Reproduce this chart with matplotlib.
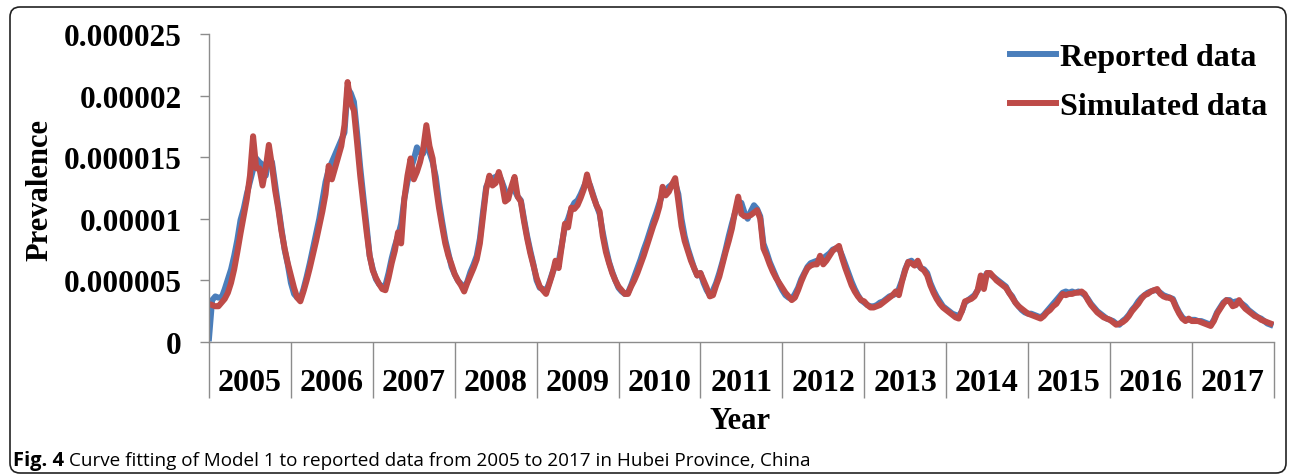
import numpy as np
import matplotlib
matplotlib.use("Agg")
import matplotlib.pyplot as plt
from matplotlib.patches import FancyBboxPatch
from matplotlib.ticker import FuncFormatter

# prevalence in units of 1e-6, 26 points per year (roughly two-weekly)
years = ["2005", "2006", "2007", "2008", "2009", "2010", "2011",
         "2012", "2013", "2014", "2015", "2016", "2017"]
pts_per_year = 26

reported = [
    0.3, 3.4, 3.7, 3.6, 3.6, 4.3, 5.1, 5.9, 7.0, 8.3, 9.9, 10.8, 12.0, 13.0, 14.0, 14.9, 14.6, 14.4, 13.5, 15.0, 14.6, 12.8, 11.0, 9.2, 7.5, 6.3,
    4.8, 3.9, 3.6, 3.5, 4.3, 5.3, 6.4, 7.6, 8.8, 10.0, 11.5, 13.0, 14.0, 14.6, 15.2, 15.8, 16.4, 17.0, 20.6, 20.2, 19.5, 17.0, 14.2, 11.8, 9.5, 7.0,
    5.9, 5.1, 4.7, 4.5, 4.6, 5.6, 6.8, 7.8, 8.6, 9.6, 11.6, 13.0, 14.0, 14.8, 15.8, 15.4, 15.3, 16.4, 15.4, 14.6, 13.4, 11.4, 9.8, 8.3, 7.2, 6.1,
    5.5, 5.0, 4.7, 4.4, 4.9, 5.7, 6.3, 7.0, 8.4, 10.6, 12.6, 13.1, 13.3, 13.4, 13.6, 13.0, 12.3, 12.0, 12.4, 12.3, 11.8, 11.5, 10.0, 8.6, 7.4, 6.3,
    5.0, 4.4, 4.3, 4.1, 4.8, 5.6, 6.2, 6.5, 7.9, 9.4, 10.0, 10.8, 11.3, 11.5, 12.0, 12.6, 13.2, 12.7, 11.9, 11.1, 10.4, 8.9, 7.6, 6.5, 5.7, 5.0,
    4.4, 4.1, 3.9, 4.0, 4.6, 5.3, 6.0, 6.7, 7.5, 8.2, 9.0, 9.8, 10.5, 11.3, 12.0, 12.3, 12.6, 12.8, 12.9, 12.0, 10.0, 8.6, 7.6, 6.8, 6.0, 5.4,
    5.6, 4.8, 4.2, 3.8, 4.2, 4.8, 5.6, 6.5, 7.5, 8.6, 9.6, 10.5, 11.0, 11.3, 10.5, 10.0, 10.6, 11.1, 10.8, 10.2, 8.0, 7.3, 6.5, 5.9, 5.3, 4.7,
    4.2, 3.8, 3.6, 3.5, 3.9, 4.4, 5.1, 5.6, 6.1, 6.4, 6.5, 6.6, 6.6, 6.8, 7.0, 7.2, 7.5, 7.6, 7.6, 7.0, 6.3, 5.6, 4.9, 4.3, 3.8, 3.4,
    3.2, 3.0, 2.9, 2.9, 3.0, 3.2, 3.3, 3.5, 3.7, 3.8, 3.9, 4.3, 5.0, 5.9, 6.5, 6.6, 6.3, 6.3, 6.0, 5.9, 5.6, 4.8, 4.2, 3.7, 3.3, 2.9,
    2.7, 2.5, 2.3, 2.2, 2.1, 2.5, 3.2, 3.4, 3.6, 3.8, 4.2, 4.8, 5.2, 5.6, 5.5, 5.3, 5.1, 4.9, 4.7, 4.5, 4.0, 3.7, 3.2, 2.9, 2.6, 2.4,
    2.3, 2.3, 2.2, 2.1, 2.0, 2.2, 2.5, 2.8, 3.1, 3.4, 3.7, 4.0, 4.1, 4.0, 4.1, 4.0, 4.1, 4.0, 3.8, 3.5, 3.1, 2.8, 2.5, 2.3, 2.1, 1.9,
    1.8, 1.7, 1.5, 1.4, 1.7, 1.9, 2.2, 2.6, 2.9, 3.3, 3.6, 3.8, 4.0, 4.1, 4.2, 4.2, 4.0, 3.8, 3.7, 3.6, 3.5, 2.9, 2.4, 2.0, 1.8, 1.8,
    1.8, 1.8, 1.7, 1.7, 1.6, 1.5, 1.4, 1.8, 2.4, 2.8, 3.2, 3.4, 3.4, 3.2, 3.3, 3.3, 3.1, 2.9, 2.6, 2.4, 2.2, 2.0, 1.9, 1.7, 1.5, 1.4,
]

simulated = [
    np.nan, 3.0, 2.9, 2.9, 3.2, 3.5, 4.0, 4.8, 5.9, 7.3, 8.8, 10.2, 11.6, 13.5, 16.7, 14.1, 14.1, 12.7, 14.1, 16.0, 14.3, 12.3, 10.8, 9.0, 7.6, 6.4,
    5.4, 4.4, 3.6, 3.3, 4.1, 5.0, 6.0, 7.1, 8.2, 9.4, 10.6, 12.0, 14.3, 13.2, 14.1, 15.0, 15.9, 17.6, 21.1, 19.4, 18.8, 16.2, 13.5, 11.2, 9.0, 7.0,
    5.8, 5.2, 4.7, 4.3, 4.2, 5.2, 6.4, 7.4, 8.9, 8.0, 11.6, 13.5, 14.9, 13.2, 13.8, 14.6, 15.7, 17.6, 15.9, 14.9, 12.7, 10.9, 9.4, 8.0, 7.0, 6.3,
    5.5, 5.0, 4.6, 4.1, 4.8, 5.4, 6.0, 6.7, 8.0, 10.2, 12.4, 13.5, 12.7, 12.9, 13.8, 12.9, 11.4, 11.6, 12.6, 13.4, 11.8, 11.4, 9.8, 8.4, 7.2, 6.2,
    5.2, 4.5, 4.2, 3.9, 4.7, 5.5, 6.6, 6.0, 7.8, 9.6, 9.3, 10.9, 10.8, 11.1, 11.7, 12.4, 13.6, 12.6, 11.8, 11.1, 10.6, 8.6, 7.3, 6.4, 5.6, 5.0,
    4.5, 4.2, 3.9, 3.9, 4.5, 5.0, 5.6, 6.3, 7.0, 7.8, 8.6, 9.4, 10.1, 11.0, 12.6, 11.9, 12.2, 12.8, 13.3, 11.4, 9.4, 8.2, 7.4, 6.6, 6.0, 5.4,
    5.6, 5.0, 4.4, 3.7, 3.8, 4.6, 5.3, 6.3, 7.3, 8.2, 9.2, 10.6, 11.8, 10.4, 10.2, 10.2, 10.3, 10.5, 10.7, 10.0, 7.6, 7.0, 6.3, 5.7, 5.2, 4.8,
    4.4, 4.0, 3.7, 3.4, 3.6, 4.2, 4.9, 5.5, 6.0, 6.2, 6.3, 6.3, 7.0, 6.3, 6.6, 7.0, 7.4, 7.6, 7.8, 6.8, 6.0, 5.3, 4.6, 4.1, 3.7, 3.4,
    3.3, 3.0, 2.8, 2.8, 2.9, 3.0, 3.2, 3.4, 3.6, 3.8, 4.1, 3.8, 4.9, 5.8, 6.5, 6.4, 6.2, 6.6, 6.0, 5.8, 5.4, 4.6, 4.0, 3.5, 3.1, 2.8,
    2.6, 2.4, 2.2, 2.0, 1.9, 2.5, 3.3, 3.4, 3.5, 3.7, 4.2, 5.4, 4.3, 5.6, 5.6, 5.3, 5.0, 4.8, 4.6, 4.4, 4.0, 3.6, 3.2, 2.9, 2.7, 2.5,
    2.3, 2.2, 2.1, 2.0, 1.9, 2.1, 2.4, 2.6, 2.9, 3.1, 3.5, 3.9, 3.8, 3.9, 3.9, 4.0, 4.0, 4.1, 3.9, 3.4, 3.0, 2.7, 2.4, 2.2, 2.0, 1.9,
    1.8, 1.6, 1.4, 1.5, 1.6, 1.8, 2.1, 2.5, 2.8, 3.1, 3.5, 3.8, 3.9, 4.1, 4.2, 4.3, 3.9, 3.7, 3.6, 3.6, 3.4, 2.8, 2.3, 1.9, 1.7, 1.9,
    1.7, 1.7, 1.7, 1.6, 1.5, 1.4, 1.3, 1.7, 2.3, 2.7, 3.1, 3.4, 3.3, 2.9, 3.0, 3.4, 3.0, 2.7, 2.5, 2.3, 2.1, 2.0, 1.8, 1.7, 1.6, 1.5,
]

reported = np.array(reported) * 1e-6
simulated = np.array(simulated) * 1e-6
t = np.arange(len(reported)) / pts_per_year

serif = "Liberation Serif"
gray = "#8c8c8c"
blue = "#4a7ebb"
red = "#be4b48"

W, H = 1292, 477
fig = plt.figure(figsize=(W / 100, H / 100), dpi=100)
ax = fig.add_axes([209 / W, 134 / H, (1273.7 - 209) / W, 308 / H])

ax.plot(t, reported, color=blue, lw=4.3, solid_joinstyle="round", label="Reported data")
ax.plot(t, simulated, color=red, lw=4.3, solid_joinstyle="round", label="Simulated data")

ax.set_xlim(0, len(years))
ax.set_ylim(0, 0.000025)

for s in ["top", "right"]:
    ax.spines[s].set_visible(False)
for s in ["left", "bottom"]:
    ax.spines[s].set_color(gray)
    ax.spines[s].set_linewidth(1.0)

ax.set_yticks(np.arange(0, 0.0000251, 0.000005))
ax.yaxis.set_major_formatter(FuncFormatter(
    lambda v, p: "0" if v == 0 else f"{v:.6f}".rstrip("0")))
ax.tick_params(axis="y", direction="out", length=6.5, width=1.0, color=gray,
               pad=13, labelsize=22.5)

# year separators as long major ticks, year names on minor ticks
ax.set_xticks(np.arange(len(years) + 1))
ax.set_xticklabels([])
ax.set_xticks(np.arange(len(years)) + 0.5, minor=True)
ax.set_xticklabels(years, minor=True)
ax.tick_params(axis="x", which="major", direction="out", length=40, width=1.0, color=gray)
ax.tick_params(axis="x", which="minor", length=0, pad=19, labelsize=23)

for lab in ax.get_yticklabels() + ax.get_xticklabels(minor=True):
    lab.set_fontfamily(serif)
    lab.set_fontweight("bold")

fig.text(40 / W, 1 - 190 / H, "Prevalence", rotation=90, ha="center", va="center",
         fontsize=22, fontweight="bold", fontfamily=serif)
fig.text(740 / W, 1 - 422 / H, "Year", ha="center", va="center",
         fontsize=22, fontweight="bold", fontfamily=serif)

ax.legend(loc="upper left", bbox_to_anchor=(1010 / W, 1 - 44 / H),
          bbox_transform=fig.transFigure, frameon=False, borderpad=0,
          borderaxespad=0, handlelength=1.45, handletextpad=0.12,
          labelspacing=0.6, prop={"family": serif, "weight": "bold", "size": 23})

# caption
fig.text(13 / W, 1 - 461 / H, "Fig. 4", ha="left", va="center", fontsize=14.5,
         fontweight="bold", fontfamily="Open Sans")
fig.text(69 / W, 1 - 461 / H,
         "Curve fitting of Model 1 to reported data from 2005 to 2017 in Hubei Province, China",
         ha="left", va="center", fontsize=13.6, fontfamily="Open Sans")

# rounded frame around the figure
frame = FancyBboxPatch((0.10, 0.03), 12.76, 4.66, boxstyle="round,pad=0,rounding_size=0.1",
                       transform=fig.dpi_scale_trans, fill=False, ec="#222222", lw=1.2)
fig.patches.append(frame)

fig.savefig("out.png", dpi=100)
